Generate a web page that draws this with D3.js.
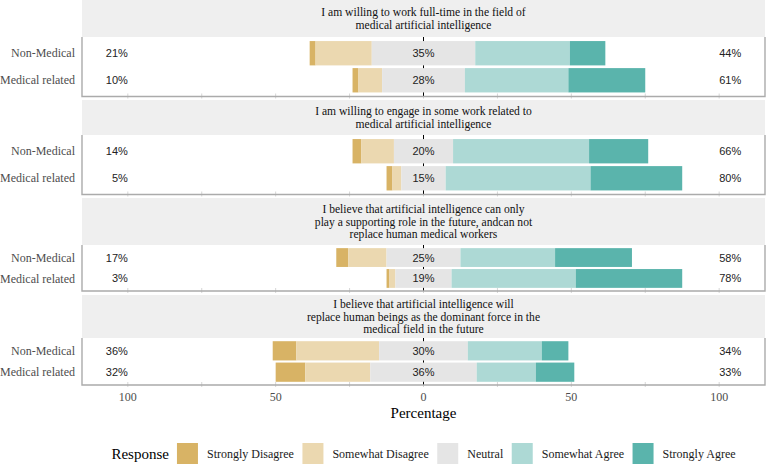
<!DOCTYPE html>
<html>
<head>
<meta charset="utf-8">
<script src="https://cdn.jsdelivr.net/npm/d3@7"></script>
<style>
  html, body { margin: 0; padding: 0; background: #fff; }
  svg { display: block; }
</style>
</head>
<body>
<svg id="chart" width="767" height="466"></svg>
<script>
// ---------------- data ----------------
const questions = [
  ["I am willing to work full-time in the field of", "medical artificial intelligence"],
  ["I am willing to engage in some work related to", "medical artificial intelligence"],
  ["I believe that artificial intelligence can only", "play a supporting role in the future, andcan not", "replace human medical workers"],
  ["I believe that artificial intelligence will", "replace human beings as the dominant force in the", "medical field in the future"]
];
const groups = ["Non-Medical", "Medical related"];
const responses = ["Strongly Disagree", "Somewhat Disagree", "Neutral", "Somewhat Agree", "Strongly Agree"];
const colors = ["#D8B365", "#EBD8B0", "#E5E5E5", "#ADD9D5", "#5AB4AC"];
// order: q1 Non-Medical, q1 Medical related, q2 NM, q2 MR, q3 NM, q3 MR, q4 NM, q4 MR
const stronglyDisagree = [2, 2, 3, 2, 4, 1, 8, 10];
const somewhatDisagree = [19, 8, 11, 3, 13, 2, 28, 22];
const neutral          = [35, 28, 20, 15, 25, 19, 30, 36];
const somewhatAgree    = [32, 35, 46, 49, 32, 42, 25, 20];
const stronglyAgree    = [12, 26, 20, 31, 26, 36, 9, 13];
const tickValues = [-100, -50, 0, 50, 100];
const xTitle = "Percentage";
const legendTitle = "Response";

// ---------------- layout ----------------
const svg = d3.select("#chart");
const serif = "'Liberation Serif', 'Times New Roman', serif";
const sans = "'Liberation Sans', Arial, sans-serif";
const panelLeft = 82, panelRight = 765;
const stripBoxes = [[0, 37], [100, 135], [198, 245], [295, 338]];
const panelBoxes = [[37, 96.5], [135, 194.5], [245, 291], [338, 385]];

const x = d3.scaleLinear().domain([-115.5, 115.5]).range([panelLeft, panelRight]);

const series = [stronglyDisagree, somewhatDisagree, neutral, somewhatAgree, stronglyAgree];

questions.forEach((q, qi) => {
  const [sTop, sBot] = stripBoxes[qi];
  const [pTop, pBot] = panelBoxes[qi];
  // strip
  svg.append("rect").attr("x", panelLeft).attr("y", sTop)
    .attr("width", panelRight - panelLeft).attr("height", sBot - sTop)
    .attr("fill", "#EFEFEF");
  const lh = 12.6;
  const cy = (sTop + sBot) / 2;
  q.forEach((line, li) => {
    svg.append("text")
      .attr("x", x(0))
      .attr("y", cy + (li - (q.length - 1) / 2) * lh)
      .attr("dy", "0.35em")
      .attr("text-anchor", "middle")
      .attr("font-family", serif).attr("font-size", 11.6)
      .attr("fill", "#111")
      .text(line);
  });

  const y = d3.scaleBand().domain(groups).range([pTop, pBot])
    .paddingInner(0.1).paddingOuter(0.15);

  const g = svg.append("g");
  // minor tick marks at bottom
  g.selectAll("line.tk").data(d3.range(-100, 101, 25)).join("line")
    .attr("x1", d => x(d)).attr("x2", d => x(d))
    .attr("y1", pBot - 3).attr("y2", pBot + 2)
    .attr("stroke", "#d6d6d6").attr("stroke-width", 1);
  // zero line
  g.append("line").attr("x1", x(0)).attr("x2", x(0))
    .attr("y1", pTop).attr("y2", pBot)
    .attr("stroke", "#000").attr("stroke-width", 1);

  groups.forEach((grp, gi) => {
    const idx = qi * 2 + gi;
    const vals = series.map(s => s[idx]);
    let start = -vals[2] / 2 - vals[1] - vals[0];
    vals.forEach((v, ri) => {
      g.append("rect")
        .attr("x", x(start)).attr("width", x(start + v) - x(start))
        .attr("y", y(grp)).attr("height", y.bandwidth())
        .attr("fill", colors[ri]);
      start += v;
    });
    const yc = y(grp) + y.bandwidth() / 2;
    const low = Math.round(vals[0] + vals[1]);
    const high = Math.round(vals[3] + vals[4]);
    const mid = Math.round(vals[2]);
    const lbl = (xv, anchor, t) => g.append("text")
      .attr("x", x(xv)).attr("y", yc).attr("dy", "0.36em")
      .attr("text-anchor", anchor)
      .attr("font-family", sans).attr("font-size", 11)
      .attr("fill", "#222").text(t);
    lbl(-100, "end", low + "%");
    lbl(0, "middle", mid + "%");
    lbl(100, "start", high + "%");
    // y axis label
    svg.append("text").attr("x", 75).attr("y", yc).attr("dy", "0.35em")
      .attr("text-anchor", "end")
      .attr("font-family", serif).attr("font-size", 12)
      .attr("fill", "#4d4d4d").text(grp);
  });

  // panel border: left, right, bottom
  const bc = "#ABABAB";
  g.append("path")
    .attr("d", `M${panelLeft},${pTop}V${pBot}H${panelRight}V${pTop}`)
    .attr("fill", "none").attr("stroke", bc).attr("stroke-width", 1.4);
});

// x axis tick labels
svg.append("g").selectAll("text").data(tickValues).join("text")
  .attr("x", d => x(d)).attr("y", 397).attr("dy", "0.35em")
  .attr("text-anchor", "middle")
  .attr("font-family", serif).attr("font-size", 12)
  .attr("fill", "#4d4d4d")
  .text(d => Math.abs(d));

svg.append("text").attr("x", x(0)).attr("y", 413).attr("dy", "0.35em")
  .attr("text-anchor", "middle")
  .attr("font-family", serif).attr("font-size", 15)
  .attr("fill", "#000").text(xTitle);

// legend
const leg = svg.append("g");
const ly = 453.5, ks = 21;
let cx = 0;
const lt = leg.append("text").attr("x", cx).attr("y", ly).attr("dy", "0.35em")
  .attr("font-family", serif).attr("font-size", 15).attr("fill", "#000").text(legendTitle);
cx += lt.node().getComputedTextLength() + 8;
responses.forEach((r, i) => {
  leg.append("rect").attr("x", cx).attr("y", ly - ks / 2).attr("width", ks).attr("height", ks)
    .attr("fill", colors[i]);
  cx += ks + 9;
  const t = leg.append("text").attr("x", cx).attr("y", ly).attr("dy", "0.35em")
    .attr("font-family", serif).attr("font-size", 12).attr("fill", "#1a1a1a").text(r);
  cx += t.node().getComputedTextLength() + (i < responses.length - 1 ? 8.5 : 0);
});
leg.attr("transform", `translate(${(panelLeft + panelRight) / 2 - cx / 2},0)`);
</script>
</body>
</html>
